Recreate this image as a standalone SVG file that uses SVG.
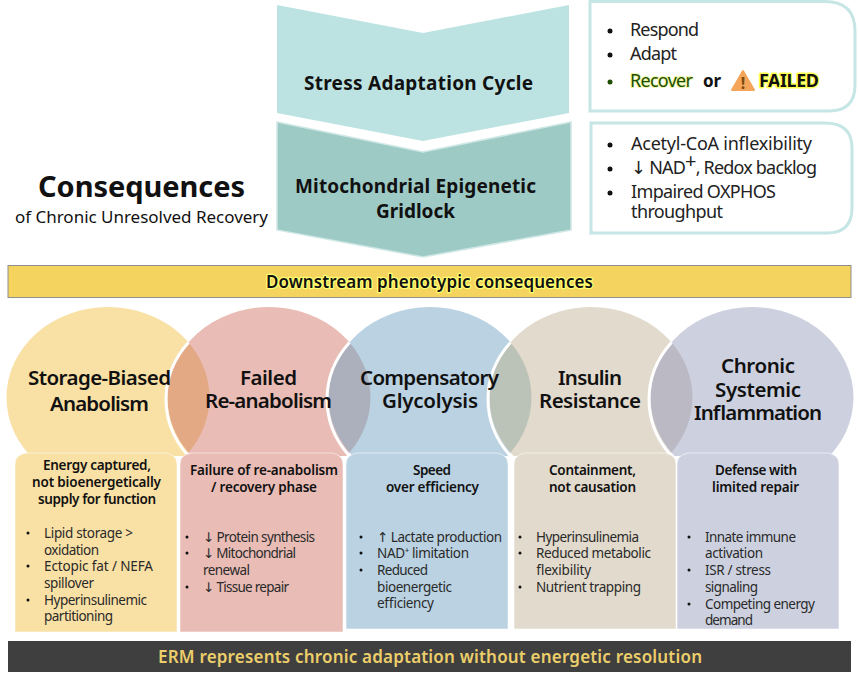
<svg xmlns="http://www.w3.org/2000/svg" width="858" height="679" viewBox="0 0 858 679">
<style>
text{font-family:"Noto Sans","Open Sans","DejaVu Sans",sans-serif;fill:#111}
.big{font-weight:700;font-size:19px}
.title{font-weight:600;font-size:20.500px}
.head{font-weight:600;font-size:13.500px}
.body{font-size:13.500px;fill:#2a2a2a}
.list{font-size:18px;fill:#222}
.dot{fill:#111}
.glow{stroke:#ffff50;stroke-width:3px;paint-order:stroke;stroke-linejoin:round}
.box{fill:#fff;stroke:#c6e6e5;stroke-width:3}
.card{stroke:#fff;stroke-opacity:.55;stroke-width:1}
.arc{fill:none;stroke:#fff;stroke-width:3}
</style>
<defs>
<clipPath id="top"><rect x="0" y="300" width="858" height="156"/></clipPath>
</defs>
<rect width="858" height="679" fill="#fff"/>

<g id="heading">
<text x="38" y="197" font-size="29" font-weight="700" textLength="207">Consequences</text>
<text x="15" y="223" font-size="17" textLength="253" fill="#222">of Chronic Unresolved Recovery</text>
</g>

<g id="stress-cycle">
<polygon points="277,5 423,33 569,5 569,113 423,141 277,113" fill="#bce3e1"/>
<text class="big" x="304" y="90" textLength="229">Stress Adaptation Cycle</text>
</g>
<g id="gridlock">
<polygon points="277,122 423,152 571,122 571,230 423,257 277,230" fill="#9ecac6" stroke="#cfe8e6" stroke-width="1.500"/>
<text class="big" x="295" y="193" textLength="241">Mitochondrial Epigenetic</text>
<text class="big" x="376" y="218" textLength="79">Gridlock</text>
</g>

<g id="stress-list">
<path class="box" d="M590,1.500H825Q855,1.500 855,31V85Q855,111 829,111H590Z"/>
<circle class="dot" cx="610" cy="31" r="2.500"/><text class="list" x="630" y="36" textLength="69">Respond</text>
<circle class="dot" cx="610" cy="55" r="2.500"/><text class="list" x="630" y="60" textLength="47">Adapt</text>
<circle cx="610" cy="82" r="2.500" fill="#1d4d00"/>
<text class="list glow" x="630" y="87" textLength="63" style="stroke:#eef7a8;stroke-width:2px;fill:#1d4d00">Recover</text>
<text x="703" y="87" font-size="17" font-weight="700" textLength="18">or</text>
<polygon points="743,71 754,90 732,90" fill="#f4a55a" stroke="#f4a55a" stroke-width="2" stroke-linejoin="round"/>
<text x="743" y="89" font-size="16" font-weight="700" text-anchor="middle" style="fill:#7a4a10">!</text>
<text class="glow" x="759" y="87" font-size="18" font-weight="700" textLength="60">FAILED</text>
</g>

<g id="gridlock-list">
<path class="box" d="M591,123H825Q852,123 852,148V208Q852,233 827,233H591Z"/>
<circle class="dot" cx="610" cy="145" r="2.500"/><text class="list" x="631" y="150" textLength="181">Acetyl-CoA inflexibility</text>
<circle class="dot" cx="610" cy="169" r="2.500"/><text class="list" x="631" y="174" textLength="186">↓ NAD<tspan dy="-6" font-size="20">+</tspan><tspan dy="6">, Redox backlog</tspan></text>
<circle class="dot" cx="610" cy="193" r="2.500"/><text class="list" x="631" y="198" textLength="145">Impaired OXPHOS</text>
<text class="list" x="631" y="218" textLength="92">throughput</text>
</g>

<g id="downstream-banner">
<rect x="8" y="265.500" width="843" height="32" fill="#f4d35e" stroke="#8f8f8f" stroke-width="1"/>
<text class="glow" x="266" y="288" font-size="17" font-weight="600" textLength="327" style="stroke:#ffff70;stroke-width:2.500px">Downstream phenotypic consequences</text>
</g>

<g id="overlaps" clip-path="url(#top)">
<ellipse cx="108" cy="397.500" rx="101.500" ry="90.500" fill="#f9e0a4"/>
<ellipse cx="269" cy="397.500" rx="101.500" ry="90.500" fill="#e9bcb5"/>
<ellipse cx="430" cy="397.500" rx="101.500" ry="90.500" fill="#bad2e2"/>
<ellipse cx="591" cy="397.500" rx="101.500" ry="90.500" fill="#e2dacc"/>
<ellipse cx="752" cy="397.500" rx="101.500" ry="90.500" fill="#cdd1df"/>
<path d="M188.500,342.400A101.500,90.500 0 0 0 188.500,452.600A101.500,90.500 0 0 0 188.500,342.400Z" fill="#e3a985"/>
<path d="M349.500,342.400A101.500,90.500 0 0 0 349.500,452.600A101.500,90.500 0 0 0 349.500,342.400Z" fill="#acb0bc"/>
<path d="M510.500,342.400A101.500,90.500 0 0 0 510.500,452.600A101.500,90.500 0 0 0 510.500,342.400Z" fill="#bbc2b8"/>
<path d="M671.500,342.400A101.500,90.500 0 0 0 671.500,452.600A101.500,90.500 0 0 0 671.500,342.400Z" fill="#bbb9c4"/>
<path class="arc" d="M188.500,342.400A101.500,90.500 0 0 0 188.500,456"/>
<path class="arc" d="M349.500,342.400A101.500,90.500 0 0 0 349.500,456"/>
<path class="arc" d="M510.500,342.400A101.500,90.500 0 0 0 510.500,456"/>
<path class="arc" d="M671.500,342.400A101.500,90.500 0 0 0 671.500,456"/>
</g>

<g id="storage-biased-anabolism">
<path class="card" fill="#f9e0a4" d="M15,464Q15,455 26,453H166Q177,455 177,464V632H15Z"/>
<text class="title" x="28" y="385" textLength="143">Storage-Biased</text>
<text class="title" x="50" y="411" textLength="99">Anabolism</text>
<text class="head" x="43" y="470" textLength="108">Energy captured,</text>
<text class="head" x="32" y="487" textLength="129">not bioenergetically</text>
<text class="head" x="38" y="504" textLength="118">supply for function</text>
<circle class="dot" cx="28" cy="533" r="1.500"/><text class="body" x="44" y="538" textLength="89">Lipid storage &gt;</text>
<text class="body" x="44" y="555" textLength="55">oxidation</text>
<circle class="dot" cx="28" cy="566" r="1.500"/><text class="body" x="44" y="571" textLength="109">Ectopic fat / NEFA</text>
<text class="body" x="44" y="588" textLength="50">spillover</text>
<circle class="dot" cx="28" cy="600" r="1.500"/><text class="body" x="44" y="605" textLength="103">Hyperinsulinemic</text>
<text class="body" x="44" y="621" textLength="69">partitioning</text>
</g>

<g id="failed-re-anabolism">
<path class="card" fill="#e9bcb5" d="M180,464Q180,455 191,453H332Q343,455 343,464V632H180Z"/>
<text class="title" x="240" y="385" textLength="57">Failed</text>
<text class="title" x="205" y="408" textLength="127">Re-anabolism</text>
<text class="head" x="190" y="475" textLength="148">Failure of re-anabolism</text>
<text class="head" x="211" y="492" textLength="106">/ recovery phase</text>
<circle class="dot" cx="187" cy="537" r="1.500"/><text class="body" x="203" y="542" textLength="112">↓ Protein synthesis</text>
<circle class="dot" cx="187" cy="553" r="1.500"/><text class="body" x="203" y="558" textLength="93">↓ Mitochondrial</text>
<text class="body" x="203" y="575" textLength="47">renewal</text>
<circle class="dot" cx="187" cy="587" r="1.500"/><text class="body" x="203" y="592" textLength="86">↓ Tissue repair</text>
</g>

<g id="compensatory-glycolysis">
<path class="card" fill="#bad2e2" d="M346,464Q346,455 357,453H497Q508,455 508,464V629H346Z"/>
<text class="title" x="360" y="385" textLength="139">Compensatory</text>
<text class="title" x="382" y="408" textLength="96">Glycolysis</text>
<text class="head" x="413" y="475" textLength="38">Speed</text>
<text class="head" x="386" y="492" textLength="93">over efficiency</text>
<circle class="dot" cx="361" cy="537" r="1.500"/><text class="body" x="377" y="542" textLength="125">↑ Lactate production</text>
<circle class="dot" cx="361" cy="553" r="1.500"/><text class="body" x="377" y="558" textLength="92">NAD⁺ limitation</text>
<circle class="dot" cx="361" cy="570" r="1.500"/><text class="body" x="377" y="575" textLength="51">Reduced</text>
<text class="body" x="377" y="592" textLength="75">bioenergetic</text>
<text class="body" x="377" y="608" textLength="57">efficiency</text>
</g>

<g id="insulin-resistance">
<path class="card" fill="#e2dacc" d="M514,464Q514,455 525,453H665Q676,455 676,464V629H514Z"/>
<text class="title" x="558" y="385" textLength="64">Insulin</text>
<text class="title" x="539" y="408" textLength="102">Resistance</text>
<text class="head" x="549" y="475" textLength="87">Containment,</text>
<text class="head" x="549" y="492" textLength="87">not causation</text>
<circle class="dot" cx="520" cy="537" r="1.500"/><text class="body" x="536" y="542" textLength="103">Hyperinsulinemia</text>
<circle class="dot" cx="520" cy="553" r="1.500"/><text class="body" x="536" y="558" textLength="115">Reduced metabolic</text>
<text class="body" x="536" y="575" textLength="55">flexibility</text>
<circle class="dot" cx="520" cy="587" r="1.500"/><text class="body" x="536" y="592" textLength="105">Nutrient trapping</text>
</g>

<g id="chronic-systemic-inflammation">
<path class="card" fill="#cdd1df" d="M677,464Q677,455 688,453H828Q839,455 839,464V629H677Z"/>
<text class="title" x="721" y="373" textLength="74">Chronic</text>
<text class="title" x="715" y="397" textLength="86">Systemic</text>
<text class="title" x="694" y="420" textLength="128">Inflammation</text>
<text class="head" x="715" y="475" textLength="82">Defense with</text>
<text class="head" x="712" y="492" textLength="87">limited repair</text>
<circle class="dot" cx="689" cy="537" r="1.500"/><text class="body" x="705" y="542" textLength="91">Innate immune</text>
<text class="body" x="705" y="558" textLength="58">activation</text>
<circle class="dot" cx="689" cy="570" r="1.500"/><text class="body" x="705" y="575" textLength="66">ISR / stress</text>
<text class="body" x="705" y="592" textLength="53">signaling</text>
<circle class="dot" cx="689" cy="604" r="1.500"/><text class="body" x="705" y="609" textLength="110">Competing energy</text>
<text class="body" x="705" y="625" textLength="48">demand</text>
</g>

<g id="erm-banner">
<rect x="8" y="641" width="843" height="31" fill="#3f3f3f"/>
<text x="158" y="663" font-size="17" font-weight="600" textLength="544" style="fill:#eccf6a">ERM represents chronic adaptation without energetic resolution</text>
</g>
</svg>
